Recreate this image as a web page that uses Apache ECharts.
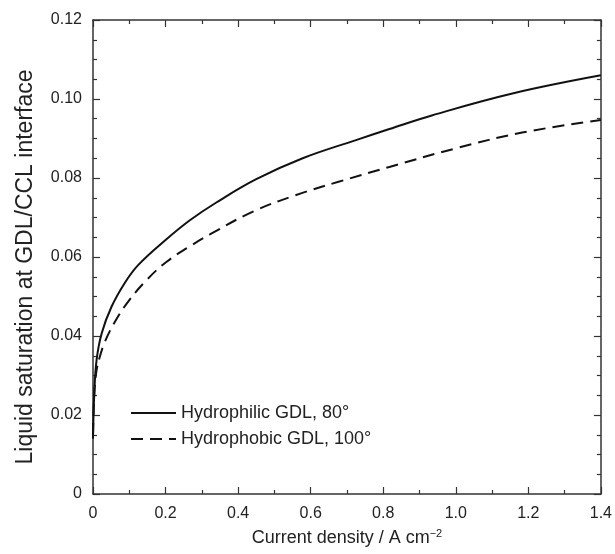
<!DOCTYPE html>
<html>
<head>
<meta charset="utf-8">
<script src="https://cdn.jsdelivr.net/npm/echarts@6/dist/echarts.min.js"></script>
<style>
  html, body { margin: 0; padding: 0; background: #fff; }
  #chart { width: 615px; height: 554px; }
</style>
</head>
<body>
<div id="chart"></div>
<script>
// Hydrophilic GDL, 80° (solid)
const philicX = [0, 0.0036, 0.010, 0.024, 0.051, 0.088, 0.125, 0.2, 0.267, 0.34, 0.45, 0.578, 0.725, 0.817, 0.936, 1.156, 1.4];
const philicY = [0.014, 0.0256, 0.034, 0.0407, 0.0474, 0.0535, 0.0580, 0.0643, 0.0693, 0.0738, 0.0797, 0.085, 0.0896, 0.0924, 0.0959, 0.1014, 0.106];
// Hydrophobic GDL, 100° (dashed)
const phobicX = [0, 0.004, 0.010, 0.019, 0.033, 0.0605, 0.097, 0.148, 0.203, 0.267, 0.322, 0.441, 0.56, 0.679, 0.817, 1.0, 1.183, 1.4];
const phobicY = [0.015, 0.026, 0.0314, 0.0348, 0.0386, 0.0436, 0.0487, 0.0542, 0.0588, 0.0627, 0.0657, 0.0715, 0.0757, 0.0791, 0.0828, 0.0875, 0.0915, 0.0947];

const seriesNames = ['Hydrophilic GDL, 80°', 'Hydrophobic GDL, 100°'];

const font = 'Liberation Sans, Arial, sans-serif';
const axisColor = '#333';

function pairs(xs, ys) {
  return xs.map((x, i) => [x, ys[i]]);
}

const chart = echarts.init(document.getElementById('chart'));

const xBase = {
  type: 'value', min: 0, max: 1.4, interval: 0.2,
  axisLine: { show: true, onZero: false, lineStyle: { color: axisColor, width: 1.5 } },
  axisTick: { show: true, inside: true, length: 7, lineStyle: { color: axisColor, width: 1.2 } },
  minorTick: { show: true, splitNumber: 2, length: 4, lineStyle: { color: axisColor, width: 1.2 } },
  splitLine: { show: false }
};
const yBase = {
  type: 'value', min: 0, max: 0.12, interval: 0.02,
  axisLine: { show: true, onZero: false, lineStyle: { color: axisColor, width: 1.5 } },
  axisTick: { show: true, inside: true, length: 7, lineStyle: { color: axisColor, width: 1.2 } },
  minorTick: { show: true, splitNumber: 4, length: 4, lineStyle: { color: axisColor, width: 1.2 } },
  splitLine: { show: false }
};

const option = {
  animation: false,
  backgroundColor: '#fff',
  textStyle: { fontFamily: font },
  grid: { left: 93, right: 13, top: 20, bottom: 60 },
  legend: {
    orient: 'vertical',
    left: 125,
    top: 399,
    itemWidth: 45,
    itemHeight: 14,
    itemGap: 8,
    itemStyle: { opacity: 0 },
    textStyle: { fontSize: 18, color: '#222', fontFamily: font },
    data: seriesNames
  },
  xAxis: [
    Object.assign({}, xBase, {
      position: 'bottom',
      name: '{a|Current density / A cm}{s|−2}',
      nameLocation: 'middle',
      nameGap: 34,
      nameTextStyle: {
        rich: {
          a: { fontSize: 18, color: '#222', fontFamily: font },
          s: { fontSize: 11, color: '#222', fontFamily: font, verticalAlign: 'top', padding: [0, 0, 10, 0] }
        }
      },
      axisLabel: {
        fontSize: 16, color: '#222', margin: 12,
        formatter: v => (v === 0 ? '0' : v.toFixed(1))
      }
    }),
    Object.assign({}, xBase, { position: 'top', axisLabel: { show: false } })
  ],
  yAxis: [
    Object.assign({}, yBase, {
      position: 'left',
      name: 'Liquid saturation at GDL/CCL interface',
      nameLocation: 'middle',
      nameGap: 56,
      nameTextStyle: { fontSize: 23, color: '#222', fontFamily: font, padding: [0, 0, 0, -20] },
      axisLabel: {
        fontSize: 16, color: '#222', margin: 11,
        formatter: v => (v === 0 ? '0' : v.toFixed(2))
      }
    }),
    Object.assign({}, yBase, { position: 'right', axisLabel: { show: false } })
  ],
  series: [
    {
      name: seriesNames[0],
      type: 'line',
      data: pairs(philicX, philicY),
      symbol: 'none',
      smooth: 0.4,
      lineStyle: { color: '#111', width: 2, type: 'solid' },
      itemStyle: { color: '#111' }
    },
    {
      name: seriesNames[1],
      type: 'line',
      data: pairs(phobicX, phobicY),
      symbol: 'none',
      smooth: 0.4,
      lineStyle: { color: '#111', width: 2, type: [12, 7] },
      itemStyle: { color: '#111' }
    }
  ]
};

chart.setOption(option);
</script>
</body>
</html>
